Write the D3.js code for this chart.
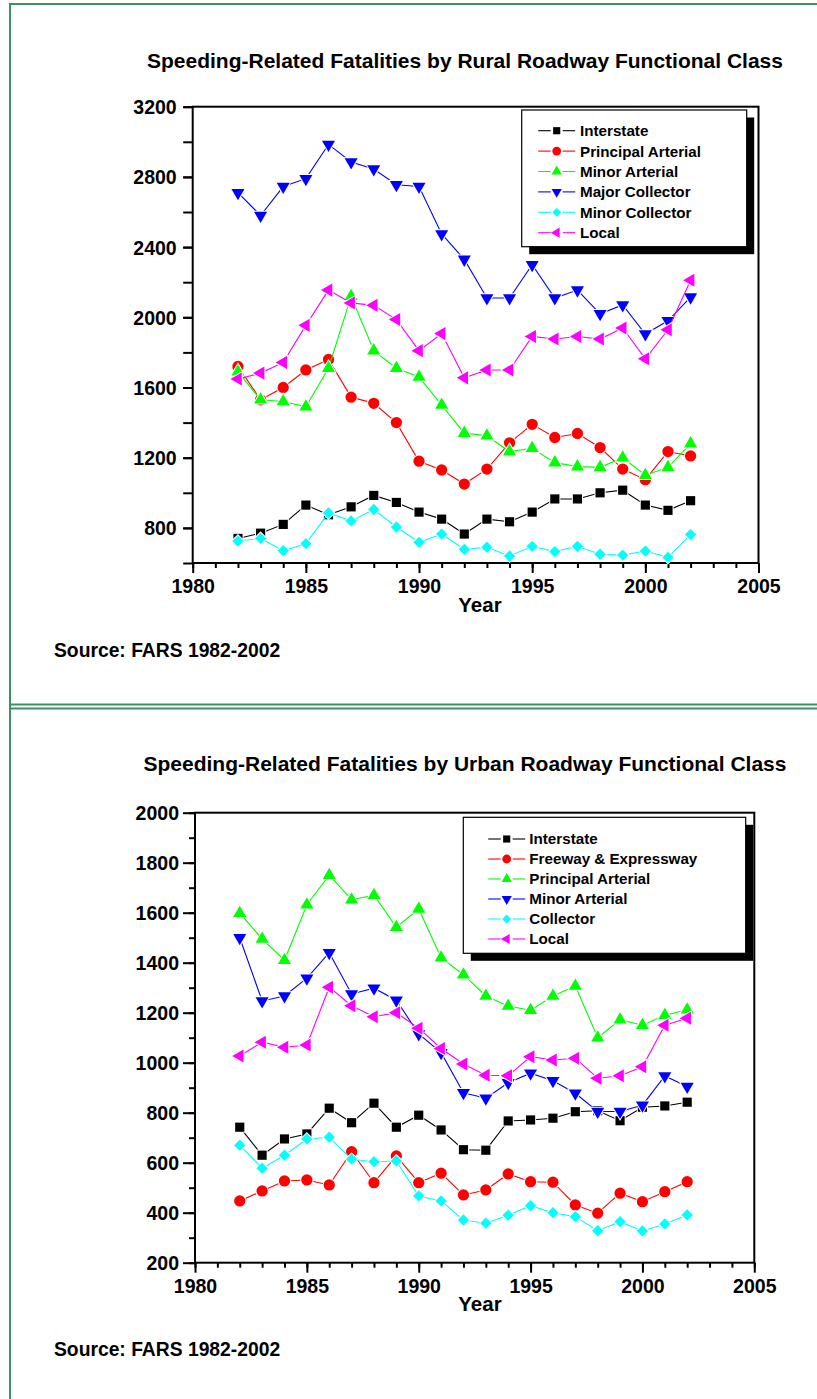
<!DOCTYPE html>
<html>
<head>
<meta charset="utf-8">
<script src="https://cdn.jsdelivr.net/npm/d3@7/dist/d3.min.js"></script>
<style>
body { margin: 0; background: #fff; }
text { font-family: "Liberation Sans", Arial, sans-serif; font-weight: bold; fill: #000; }
</style>
</head>
<body>
<svg id="chart" width="817" height="1399"></svg>
<script>
// ---------------- data ----------------
const years = [1982,1983,1984,1985,1986,1987,1988,1989,1990,1991,1992,1993,1994,1995,1996,1997,1998,1999,2000,2001,2002];
const xTickLabels = [1980,1985,1990,1995,2000,2005];

const ruralNames = ["Interstate","Principal Arterial","Minor Arterial","Major Collector","Minor Collector","Local"];
const ruralInterstate = [740,770,820,930,875,920,985,945,890,850,765,850,835,890,965,965,1000,1015,930,900,955];
const ruralPrincipal  = [1720,1530,1600,1700,1760,1545,1510,1400,1180,1130,1050,1135,1285,1390,1315,1338,1258,1135,1075,1235,1210];
const ruralMinorArt   = [1690,1530,1520,1490,1710,2120,1810,1710,1660,1500,1340,1325,1235,1254,1172,1149,1145,1200,1100,1145,1280];
const ruralMajorColl  = [2710,2580,2745,2790,2985,2885,2845,2755,2745,2475,2330,2110,2110,2300,2110,2155,2020,2070,1905,1980,2115];
const ruralMinorColl  = [725,740,670,710,885,840,905,805,718,765,678,690,640,695,665,695,650,645,668,632,762];
const ruralLocal      = [1648,1682,1743,1954,2155,2082,2068,1987,1810,1907,1655,1700,1700,1891,1876,1891,1876,1939,1764,1929,2211];
const ruralYTickLabels = [800,1200,1600,2000,2400,2800,3200];

const urbanNames = ["Interstate","Freeway & Expressway","Principal Arterial","Minor Arterial","Collector","Local"];
const urbanInterstate = [742,630,695,715,818,760,838,742,790,731,652,650,767,771,778,804,808,768,822,827,842];
const urbanFreeway    = [447,487,527,531,511,644,520,627,520,558,471,491,555,524,522,431,398,478,444,484,524];
const urbanPrincipal  = [1598,1495,1410,1632,1750,1652,1670,1542,1615,1420,1352,1267,1227,1210,1267,1307,1100,1172,1150,1190,1212];
const urbanMinorArt   = [1500,1247,1267,1338,1440,1275,1298,1250,1115,1040,880,858,920,958,928,878,805,805,830,947,905];
const urbanCollector  = [670,578,630,695,702,614,604,607,467,447,371,358,390,428,400,384,328,364,327,355,391];
const urbanLocal      = [1027,1082,1062,1071,1302,1228,1184,1200,1138,1057,995,950,948,1024,1011,1018,938,948,984,1150,1178];
const urbanYTickLabels = [200,400,600,800,1000,1200,1400,1600,1800,2000];

const titles = ["Speeding-Related Fatalities by Rural Roadway Functional Class",
                "Speeding-Related Fatalities by Urban Roadway Functional Class"];
const sourceText = "Source: FARS 1982-2002";
const xTitle = "Year";

// ---------------- styles ----------------
const colors = ["#000000","#ff0000","#00ff00","#0000ff","#00ffff","#ff00ff"];
const markers = ["square","circle","up","down","diamond","left"];

function markerPath(kind, s) {
  switch (kind) {
    case "square":  return {d: d3.symbol(d3.symbolSquare, 84*s*s)(), rot: 0};
    case "circle":  return {d: d3.symbol(d3.symbolCircle, 100*s*s)(), rot: 0};
    case "up":      return {d: d3.symbol(d3.symbolTriangle, 74*s*s)(), rot: 0};
    case "down":    return {d: d3.symbol(d3.symbolTriangle, 74*s*s)(), rot: 180};
    case "left":    return {d: d3.symbol(d3.symbolTriangle, 74*s*s)(), rot: -90};
    case "diamond": return {d: d3.symbol(d3.symbolSquare, 64*s*s)(), rot: 45};
  }
}

const svg = d3.select("#chart");

// green page frame
const frameColor = "#3a9163";
svg.append("line").attr("x1",10).attr("x2",10).attr("y1",4).attr("y2",1399).attr("stroke",frameColor).attr("stroke-width",2);
[4, 704.5, 708.5].forEach(yy => {
  svg.append("line").attr("x1",9).attr("x2",817).attr("y1",yy).attr("y2",yy).attr("stroke",frameColor).attr("stroke-width",2);
});

function drawPanel(cfg) {
  const g = svg.append("g");
  const x = d3.scaleLinear().domain([1980,2005]).range([cfg.left, cfg.right]);
  const y = d3.scaleLinear().domain([cfg.yMin, cfg.yMax]).range([cfg.bottom, cfg.top]);

  g.append("text").attr("x", 465).attr("y", cfg.titleY).attr("text-anchor","middle")
    .style("font-size","21px").text(cfg.title);

  const xMinor = g.append("g").attr("transform", `translate(0,${cfg.bottom})`)
    .call(d3.axisBottom(x).tickValues(d3.range(1980,2006)).tickSize(5).tickFormat(""));
  const xMajor = g.append("g").attr("transform", `translate(0,${cfg.bottom})`)
    .call(d3.axisBottom(x).tickValues(xTickLabels).tickSize(10).tickFormat(d3.format("d")));
  [xMinor, xMajor].forEach(a => { a.select(".domain").remove(); a.selectAll("line").attr("stroke","#000").attr("stroke-width",2); });
  xMajor.selectAll("text").attr("y", 30).attr("dy", 0).style("font-size","19.5px").attr("fill","#000");

  const yMinor = g.append("g").attr("transform", `translate(${cfg.left},0)`)
    .call(d3.axisLeft(y).tickValues(d3.range(cfg.yMin, cfg.yMax + 1, cfg.yMinorStep)).tickSize(cfg.minorLen).tickFormat(""));
  const yMajor = g.append("g").attr("transform", `translate(${cfg.left},0)`)
    .call(d3.axisLeft(y).tickValues(cfg.yLabels).tickSize(cfg.majorLen).tickFormat(d3.format("d")));
  [yMinor, yMajor].forEach(a => { a.select(".domain").remove(); a.selectAll("line").attr("stroke","#000").attr("stroke-width",2); });
  yMajor.selectAll("text").attr("x", -16).attr("dy","0.36em").style("font-size","19.5px").attr("fill","#000");

  g.append("rect").attr("x", cfg.left).attr("y", cfg.top)
    .attr("width", cfg.right - cfg.left).attr("height", cfg.bottom - cfg.top)
    .attr("fill","none").attr("stroke","#000").attr("stroke-width",2);

  g.append("text").attr("x", 480).attr("y", cfg.bottom + 48.7).attr("text-anchor","middle")
    .style("font-size","20.5px").text(xTitle);

  const line = d3.line().x((d,i) => x(years[i])).y(d => y(d));
  cfg.series.forEach((vals, k) => {
    const sg = g.append("g");
    sg.append("path").datum(vals).attr("d", line).attr("fill","none")
      .attr("stroke", colors[k]).attr("stroke-width", 1.1);
    const m = markerPath(markers[k], 1);
    sg.selectAll("path.m").data(vals).join("path").attr("class","m")
      .attr("d", m.d)
      .attr("transform", (d,i) => `translate(${x(years[i])},${y(d)}) rotate(${m.rot})`)
      .attr("fill", colors[k]).attr("stroke","#fff").attr("stroke-width",2)
      .style("paint-order","stroke");
  });

  const L = cfg.legend;
  const lg = g.append("g");
  lg.append("rect").attr("x", L.x0 + 7.5).attr("y", L.y0 + 7.5)
    .attr("width", L.x1 - L.x0).attr("height", L.y1 - L.y0).attr("fill","#000");
  lg.append("rect").attr("x", L.x0).attr("y", L.y0)
    .attr("width", L.x1 - L.x0).attr("height", L.y1 - L.y0)
    .attr("fill","#fff").attr("stroke","#000").attr("stroke-width",1.2);
  cfg.names.forEach((name, k) => {
    const yy = L.rowY0 + k * L.rowStep;
    lg.append("line").attr("x1", L.markerX - 18.5).attr("x2", L.markerX - 6)
      .attr("y1", yy).attr("y2", yy).attr("stroke", colors[k]).attr("stroke-width",1.1);
    lg.append("line").attr("x1", L.markerX + 6).attr("x2", L.markerX + 18.5)
      .attr("y1", yy).attr("y2", yy).attr("stroke", colors[k]).attr("stroke-width",1.1);
    const m = markerPath(markers[k], 0.78);
    lg.append("path").attr("d", m.d)
      .attr("transform", `translate(${L.markerX},${yy}) rotate(${m.rot})`)
      .attr("fill", colors[k]);
    lg.append("text").attr("x", L.textX).attr("y", yy).attr("dy","0.36em")
      .style("font-size","15.2px").text(name);
  });

  g.append("text").attr("x", 54).attr("y", cfg.sourceY).style("font-size","19.3px").text(sourceText);
}

drawPanel({
  title: titles[0], titleY: 68,
  left: 192.7, right: 758.5, top: 106.7, bottom: 563,
  yMin: 600, yMax: 3200, yMinorStep: 200, yLabels: ruralYTickLabels,
  majorLen: 9.5, minorLen: 9.5,
  names: ruralNames,
  series: [ruralInterstate, ruralPrincipal, ruralMinorArt, ruralMajorColl, ruralMinorColl, ruralLocal],
  legend: {x0: 521.7, y0: 110, x1: 746.7, y1: 246.7, rowY0: 130.7, rowStep: 20.4, textX: 580, markerX: 556.7},
  sourceY: 656.7
});

drawPanel({
  title: titles[1], titleY: 771,
  left: 195, right: 754.3, top: 812.7, bottom: 1262.7,
  yMin: 200, yMax: 2000, yMinorStep: 100, yLabels: urbanYTickLabels,
  majorLen: 12, minorLen: 6,
  names: urbanNames,
  series: [urbanInterstate, urbanFreeway, urbanPrincipal, urbanMinorArt, urbanCollector, urbanLocal],
  legend: {x0: 463.3, y0: 817.3, x1: 745.7, y1: 953.3, rowY0: 839, rowStep: 20, textX: 529.3, markerX: 506.7},
  sourceY: 1356
});
</script>
</body>
</html>
